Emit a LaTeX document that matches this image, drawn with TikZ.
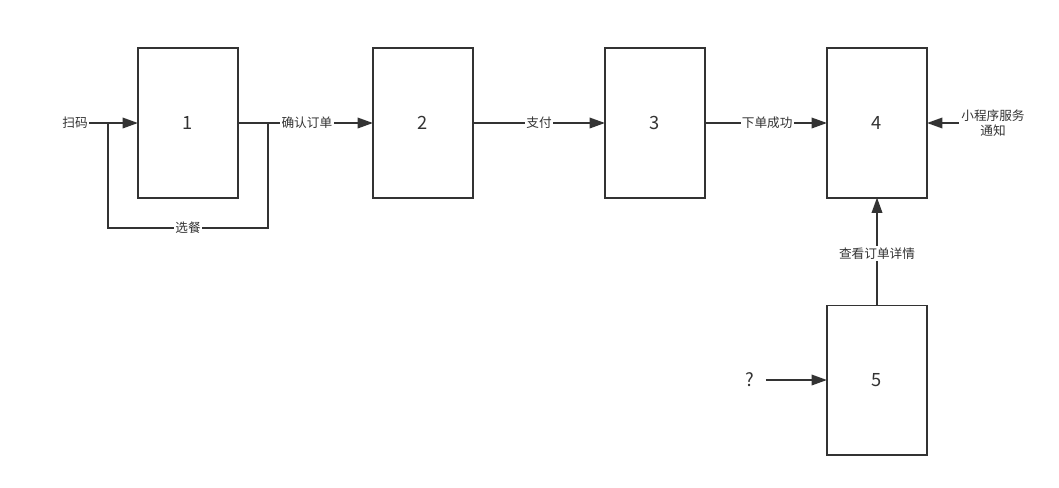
\documentclass[tikz,border=0pt]{standalone}
\usepackage{fontspec}
\setmainfont{Noto Sans CJK SC}
\usetikzlibrary{arrows.meta}

\tikzset{
    box/.style={draw, line width=1.4pt, minimum width=2.5cm, minimum height=3.725cm, inner sep=0, outer sep=0, font=\fontsize{13}{13}\selectfont, text=black!80},
    lbl/.style={fill=white, inner sep=1pt, font=\fontsize{9}{11}\selectfont, text=black!80},
    arr/.style={line width=1.4pt, -{Triangle[length=11pt, width=7.5pt]}},
    ln/.style={line width=1.4pt}
}

\begin{document}
\begin{tikzpicture}[x=0.025cm, y=-0.025cm, draw=black!80]

    \useasboundingbox (0,0) rectangle (1059,487);

    % boxes
    \node[box] (b1) at (188, 123) {1};
    \node[box] (b2) at (423, 123) {2};
    \node[box] (b3) at (655, 123) {3};
    \node[box] (b4) at (877, 123) {4};
    \node[box] (b5) at (877, 380) {5};

    % outer labels
    \node[lbl, inner xsep=1pt] (scan) at (75, 123) {扫码};
    \node[lbl, align=center, inner xsep=1.5pt] (notice) at (993, 123) {小程序服务\\通知};
    \node[lbl, inner xsep=8pt, font=\fontsize{13}{13}\selectfont] (ask) at (750, 380) {?};

    % loop round box 1
    \coordinate (split) at (108, 123);
    \coordinate (turn) at (268, 123);
    \coordinate (loopa) at (268, 228);
    \coordinate (loopb) at (108, 228);

    \draw[arr] (scan) -- (b1);
    \draw[ln] (b1.east) -- (turn) -- (loopa) -- node[lbl] {选餐} (loopb) -- (split);

    % main flow
    \draw[arr] (turn) -- node[lbl, pos=0.37] {确认订单} (b2);
    \draw[arr] (b2) -- node[lbl] {支付} (b3);
    \draw[arr] (b3) -- node[lbl, pos=0.51] {下单成功} (b4);
    \draw[arr] (notice) -- (b4);
    \draw[arr] (b5) -- node[lbl, pos=0.48] {查看订单详情} (b4);
    \draw[arr] (ask) -- (b5);

\end{tikzpicture}
\end{document}
